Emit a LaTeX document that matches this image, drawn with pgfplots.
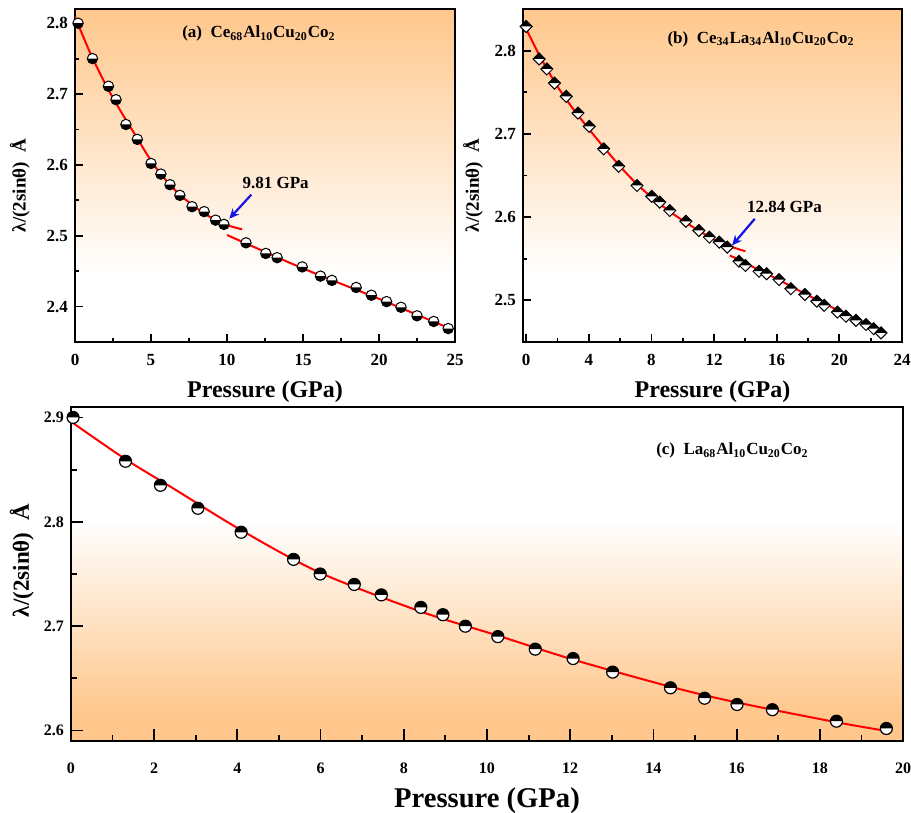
\documentclass[border=0pt]{standalone}
\usepackage{fontspec}
\setmainfont{Liberation Serif}
\usepackage{pgfplots}
\pgfplotsset{compat=1.18}
\usetikzlibrary{arrows.meta}

\definecolor{bgor}{RGB}{255,199,140}
\definecolor{arrblue}{RGB}{20,20,230}

% backgrounds: the axis box spans 25bp (bottom) .. 75bp (top)
\pgfdeclareverticalshading{shadeTop}{100bp}{color(0bp)=(white); color(35bp)=(white); color(75bp)=(bgor); color(100bp)=(bgor)}
\pgfdeclareverticalshading{shadeBot}{100bp}{color(0bp)=(bgor); color(29bp)=(bgor); color(58bp)=(white); color(100bp)=(white)}

% half filled marks
\pgfdeclareplotmark{hcbot}{%
  \pgfpathcircle{\pgfpointorigin}{\pgfplotmarksize}%
  \pgfsetfillcolor{white}\pgfusepathqfill
  \pgfpathmoveto{\pgfpoint{\pgfplotmarksize}{0pt}}%
  \pgfpatharc{0}{-180}{\pgfplotmarksize}%
  \pgfpathclose
  \pgfsetfillcolor{black}\pgfusepathqfill
  \pgfpathcircle{\pgfpointorigin}{\pgfplotmarksize}%
  \pgfusepathqstroke
}
\pgfdeclareplotmark{hctop}{%
  \pgfpathcircle{\pgfpointorigin}{\pgfplotmarksize}%
  \pgfsetfillcolor{white}\pgfusepathqfill
  \pgfpathmoveto{\pgfpoint{\pgfplotmarksize}{0pt}}%
  \pgfpatharc{0}{180}{\pgfplotmarksize}%
  \pgfpathclose
  \pgfsetfillcolor{black}\pgfusepathqfill
  \pgfpathcircle{\pgfpointorigin}{\pgfplotmarksize}%
  \pgfusepathqstroke
}
\pgfdeclareplotmark{hdtop}{%
  \pgfpathmoveto{\pgfpoint{\pgfplotmarksize}{0pt}}%
  \pgfpathlineto{\pgfpoint{0pt}{-\pgfplotmarksize}}%
  \pgfpathlineto{\pgfpoint{-\pgfplotmarksize}{0pt}}%
  \pgfpathlineto{\pgfpoint{0pt}{\pgfplotmarksize}}%
  \pgfpathclose
  \pgfsetfillcolor{white}\pgfusepathqfill
  \pgfpathmoveto{\pgfpoint{\pgfplotmarksize}{0pt}}%
  \pgfpathlineto{\pgfpoint{0pt}{\pgfplotmarksize}}%
  \pgfpathlineto{\pgfpoint{-\pgfplotmarksize}{0pt}}%
  \pgfpathclose
  \pgfsetfillcolor{black}\pgfusepathqfill
  \pgfpathmoveto{\pgfpoint{\pgfplotmarksize}{0pt}}%
  \pgfpathlineto{\pgfpoint{0pt}{-\pgfplotmarksize}}%
  \pgfpathlineto{\pgfpoint{-\pgfplotmarksize}{0pt}}%
  \pgfpathlineto{\pgfpoint{0pt}{\pgfplotmarksize}}%
  \pgfpathclose
  \pgfusepathqstroke
}

\pgfplotsset{
  hp/.style={
    scale only axis,
    axis line style={line width=1pt},
    tick align=inside, xtick pos=left, ytick pos=left,
    minor tick num=1,
    major tick length=4pt, minor tick length=2pt,
    every tick/.style={black, line width=0.9pt},
    tick label style={font=\bfseries\fontsize{8.5}{10}\selectfont},
    /pgf/number format/assume math mode=true,
    xticklabel style={yshift=-2.5pt},
    xlabel style={font=\bfseries\fontsize{12}{14}\selectfont, anchor=center},
    ylabel style={font=\bfseries\fontsize{9.5}{11}\selectfont, anchor=center},
  },
  fitline/.style={red, line width=1pt, smooth, no marks},
}
\tikzset{annot/.style={font=\bfseries\fontsize{8.5}{10}\selectfont}}

\begin{document}
\begin{tikzpicture}
% ---------------- (a)
\begin{axis}[hp, at={(37.5pt,-171pt)}, anchor=south west,
  width=190pt, height=166.5pt,
  xmin=0, xmax=25, ymin=2.35, ymax=2.82,
  xtick={0,5,...,25}, ytick={2.4,2.5,2.6,2.7,2.8},
  axis background/.style={shading=shadeTop},
  xlabel={Pressure (GPa)}, xlabel style={at={(axis description cs:0.5,-0.150)}},
  ylabel={λ/(2sinθ)\ \ Å}, ylabel style={at={(axis description cs:-0.145,0.47)}}]
\addplot[only marks, mark=hcbot, mark size=2.6pt, mark options={line width=0.5pt}] coordinates {
 (0.2,2.800) (1.15,2.750) (2.2,2.711) (2.7,2.692) (3.35,2.657) (4.1,2.636)
 (5.0,2.602) (5.65,2.587) (6.25,2.572) (6.9,2.557) (7.7,2.541) (8.5,2.534)
 (9.25,2.522) (9.8,2.516) (11.25,2.490) (12.55,2.475) (13.3,2.469) (14.95,2.456)
 (16.15,2.443) (16.9,2.437) (18.5,2.427) (19.5,2.416) (20.5,2.407) (21.45,2.399)
 (22.5,2.387) (23.6,2.379) (24.55,2.369)};
\addplot[fitline] coordinates {
 (0,2.809) (1,2.758) (2,2.714) (3,2.676) (4,2.641) (5,2.606) (6,2.578)
 (7,2.556) (8,2.539) (9,2.525) (10,2.515) (11,2.509)};
\addplot[fitline] coordinates {
 (10,2.501) (12,2.482) (14,2.463) (16,2.445) (18,2.428) (20,2.411) (22,2.393) (24,2.375) (24.7,2.369)};
\node[annot] at (axis cs:12.1,2.785) {(a)\ \ Ce\textsubscript{68}Al\textsubscript{10}Cu\textsubscript{20}Co\textsubscript{2}};
\node[annot] at (axis cs:13.2,2.574) {9.81 GPa};
\draw[arrblue, line width=1.1pt, -{Stealth[length=5pt,width=4.5pt]}] (axis cs:11.6,2.558) -- (axis cs:10.15,2.524);
\end{axis}
% ---------------- (b)
\begin{axis}[hp, at={(261.5pt,-171pt)}, anchor=south west,
  width=189.5pt, height=166.5pt,
  xmin=-0.2, xmax=24, ymin=2.45, ymax=2.85,
  xtick={0,4,...,24}, ytick={2.5,2.6,2.7,2.8},
  axis background/.style={shading=shadeTop},
  xlabel={Pressure (GPa)}, xlabel style={at={(axis description cs:0.5,-0.150)}},
  ylabel={λ/(2sinθ)\ \ Å}, ylabel style={at={(axis description cs:-0.132,0.47)}}]
\addplot[only marks, mark=hdtop, mark size=3pt, mark options={line width=0.5pt}] coordinates {
 (0,2.829) (0.83,2.790) (1.32,2.778) (1.81,2.761) (2.56,2.745) (3.31,2.725)
 (4.03,2.709) (4.95,2.682) (5.91,2.661) (7.08,2.638) (8.02,2.625) (8.53,2.618)
 (9.17,2.608) (10.2,2.595) (11.03,2.584) (11.7,2.576) (12.33,2.570) (12.84,2.564)
 (13.59,2.547) (14.0,2.542) (14.87,2.535) (15.36,2.532) (16.15,2.525) (16.9,2.514)
 (17.8,2.507) (18.56,2.499) (19.03,2.494) (19.88,2.486) (20.42,2.481) (21.06,2.476)
 (21.7,2.471) (22.19,2.466) (22.66,2.461)};
\addplot[fitline] coordinates {
 (0,2.826) (1,2.789) (2,2.757) (3,2.730) (4,2.706) (5,2.683) (6,2.661) (7,2.641)
 (8,2.624) (9,2.609) (10,2.596) (11,2.584) (12,2.573) (13,2.565) (14,2.559)};
\addplot[fitline] coordinates {
 (13.0,2.554) (14,2.545) (15,2.535) (16,2.526) (17,2.516) (18,2.506) (19,2.497)
 (20,2.487) (21,2.478) (22,2.468) (22.9,2.459)};
\node[annot] at (axis cs:15.0,2.814) {(b)\ \ Ce\textsubscript{34}La\textsubscript{34}Al\textsubscript{10}Cu\textsubscript{20}Co\textsubscript{2}};
\node[annot] at (axis cs:16.5,2.612) {12.84 GPa};
\draw[arrblue, line width=1.1pt, -{Stealth[length=5pt,width=4.5pt]}] (axis cs:14.6,2.598) -- (axis cs:13.15,2.566);
\end{axis}
% ---------------- (c)
\begin{axis}[hp, at={(35.5pt,-370.5pt)}, anchor=south west,
  width=416pt, height=167pt,
  xmin=0, xmax=20, ymin=2.59, ymax=2.91,
  xtick={0,2,...,20}, ytick={2.6,2.7,2.8,2.9},
  major tick length=6pt, minor tick length=3pt,
  tick label style={font=\bfseries\fontsize{8}{10}\selectfont},
  xticklabel style={yshift=-5pt},
  axis background/.style={shading=shadeBot},
  xlabel={Pressure (GPa)}, xlabel style={font=\bfseries\fontsize{14.3}{16}\selectfont, at={(axis description cs:0.5,-0.177)}},
  ylabel={λ/(2sinθ)\ \ Å}, ylabel style={font=\bfseries\fontsize{11.5}{13}\selectfont, at={(axis description cs:-0.059,0.54)}}]
\addplot[only marks, mark=hctop, mark size=3pt, mark options={line width=0.6pt}] coordinates {
 (0.05,2.900) (1.31,2.858) (2.15,2.835) (3.05,2.813) (4.09,2.790) (5.35,2.764)
 (5.99,2.750) (6.81,2.740) (7.46,2.730) (8.41,2.718) (8.94,2.711) (9.48,2.700)
 (10.26,2.690) (11.16,2.678) (12.07,2.669) (13.02,2.656) (14.41,2.641) (15.23,2.631)
 (16.01,2.625) (16.86,2.620) (18.40,2.609) (19.60,2.602)};
\addplot[fitline] coordinates {
 (0,2.896) (1.31,2.860) (2.5,2.831) (4.09,2.792) (6,2.751) (8.41,2.714)
 (10.26,2.691) (12.07,2.668) (14.41,2.642) (16,2.627) (18.4,2.608) (19.7,2.599)};
\node[annot] at (axis cs:15.9,2.868) {(c)\ \ La\textsubscript{68}Al\textsubscript{10}Cu\textsubscript{20}Co\textsubscript{2}};
\end{axis}
\pgfresetboundingbox
\path[use as bounding box] (0,0) rectangle (455.5pt,-406.5pt);
\end{tikzpicture}
\end{document}
